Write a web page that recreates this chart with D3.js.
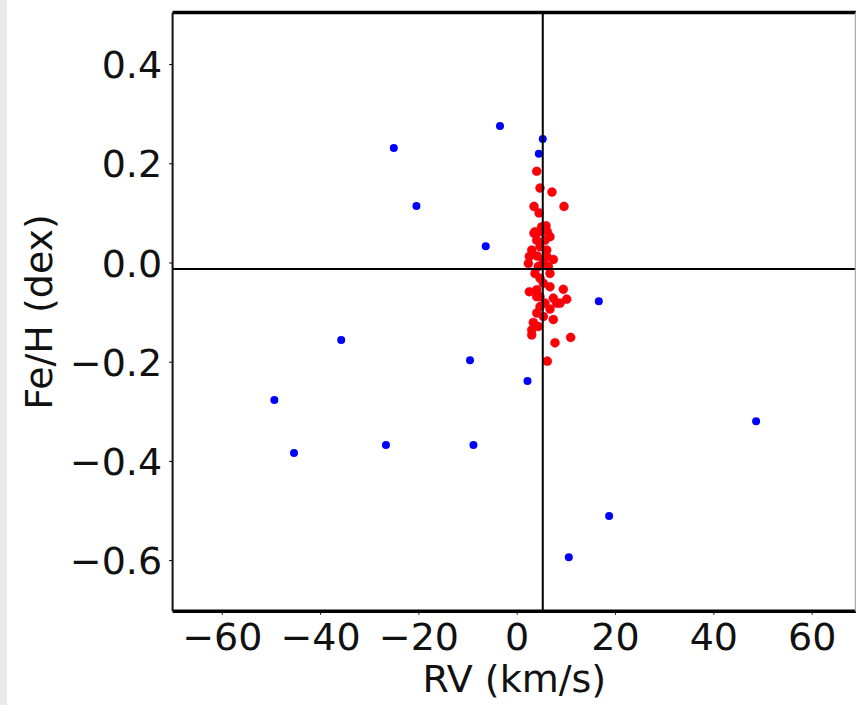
<!DOCTYPE html>
<html>
<head>
<meta charset="utf-8">
<script src="https://cdn.jsdelivr.net/npm/d3@7"></script>
<style>
  body { margin: 0; background: #ffffff; }
  svg { display: block; }
  text { font-family: "DejaVu Sans", sans-serif; }
</style>
</head>
<body>
<svg id="drawing_region"></svg>
<script>
// field stars (blue)
const field_rv  = [-3.4, 5.3, 4.5, -25.0, -20.4, -6.3, 16.7, -35.7, -9.5, 2.2, -49.3, -26.6, -8.8, -45.3, 48.7, 18.8, 10.6];
const field_feh = [0.275, 0.249, 0.219, 0.231, 0.114, 0.033, -0.078, -0.156, -0.197, -0.239, -0.277, -0.368, -0.368, -0.384, -0.320, -0.511, -0.594];

// cluster members (red)
const member_rv  = [4.07, 4.74, 7.18, 3.52, 9.62, 4.54, 5.96, 3.52, 4.74, 6.23, 4.07, 5.76, 6.77, 4.74, 6.10,
                    2.57, 4.20, 7.45, 2.37, 5.42, 4.40, 6.44, 3.72, 6.77, 4.74, 5.42, 2.57, 4.07, 6.77, 9.48,
                    4.74, 7.45, 10.17, 8.81, 5.76, 6.77, 4.07, 5.42, 7.45, 3.38, 4.40, 3.05, 7.79, 10.98, 6.23,
                    3.72, 5.08, 3.05, 6.10, 4.74, 3.05, 4.07, 8.14];
const member_feh = [0.184, 0.150, 0.142, 0.113, 0.113, 0.100, 0.074, 0.059, 0.062, 0.062, 0.045, 0.045, 0.052, 0.032, 0.025,
                    0.012, 0.013, 0.006, -0.002, 0.002, -0.008, -0.008, -0.022, -0.022, -0.032, -0.042, -0.059, -0.055, -0.049, -0.054,
                    -0.069, -0.072, -0.074, -0.082, -0.082, -0.094, -0.102, -0.109, -0.115, -0.121, -0.129, -0.146, -0.162, -0.151, -0.199,
                    0.062, 0.072, 0.025, 0.012, -0.089, -0.136, -0.069, -0.082];

// reference lines
const line_rv = 5.3;
const line_feh = -0.013;

const x_ticks = [-60, -40, -20, 0, 20, 40, 60];
const y_ticks = [-0.6, -0.4, -0.2, 0.0, 0.2, 0.4];

class ScatterPlot {

    constructor( config ) {
        this.config = config;
        this.init();
    }

    init() {
        let self = this;

        self.svg = d3.select( self.config.parent )
            .attr('width', self.config.width)
            .attr('height', self.config.height);

        // grey strip on the left edge of the picture
        self.svg.append('rect')
            .attr('x', 0).attr('y', 0)
            .attr('width', 7).attr('height', self.config.height)
            .attr('fill', '#ebe9e5');

        self.xscale = d3.scaleLinear()
            .domain( [-70, 69] )
            .range( [172.6, 855.9] );

        self.yscale = d3.scaleLinear()
            .domain( [-0.703, 0.504] )
            .range( [611.2, 12.5] );

        self.chart = self.svg.append('g');
    }

    render() {
        let self = this;
        const x0 = self.xscale.range()[0], x1 = self.xscale.range()[1];
        const y0 = self.yscale.range()[1], y1 = self.yscale.range()[0];

        const fmt = d => d3.format('.1f')(d).replace('-', '\u2212');
        const xfmt = d => String(d).replace('-', '\u2212');

        // axes
        const xaxis = d3.axisBottom( self.xscale )
            .tickValues( x_ticks )
            .tickSize(3.5)
            .tickPadding(8)
            .tickFormat( xfmt );
        const xg = self.chart.append('g')
            .attr('transform', `translate(0, ${y1})`)
            .call( xaxis );
        xg.select('.domain').remove();
        xg.selectAll('text')
            .attr('font-size', 38)
            .attr('font-family', '"DejaVu Sans", sans-serif')
            .attr('fill', '#111');

        const yaxis = d3.axisLeft( self.yscale )
            .tickValues( y_ticks )
            .tickSize(3.5)
            .tickPadding(7)
            .tickFormat( fmt );
        const yg = self.chart.append('g')
            .attr('transform', `translate(${x0}, 0)`)
            .call( yaxis );
        yg.select('.domain').remove();
        yg.selectAll('text')
            .attr('font-size', 38)
            .attr('font-family', '"DejaVu Sans", sans-serif')
            .attr('fill', '#111')
            .attr('dy', '0.36em');

        // points
        const field = field_rv.map( (d, i) => ({ x: d, y: field_feh[i] }) );
        const member = member_rv.map( (d, i) => ({ x: d, y: member_feh[i] }) );

        self.chart.append('g').selectAll('circle')
            .data( field )
            .join('circle')
            .attr('cx', d => self.xscale( d.x ))
            .attr('cy', d => self.yscale( d.y ))
            .attr('r', 4)
            .attr('fill', '#0000ff');

        self.chart.append('g').selectAll('circle')
            .data( member )
            .join('circle')
            .attr('cx', d => self.xscale( d.x ))
            .attr('cy', d => self.yscale( d.y ))
            .attr('r', 4.6)
            .attr('fill', '#ff0000')
            .attr('stroke', '#c0106a')
            .attr('stroke-opacity', 0.35)
            .attr('stroke-width', 0.8);

        // reference lines
        self.chart.append('line')
            .attr('x1', self.xscale(line_rv)).attr('x2', self.xscale(line_rv))
            .attr('y1', y0).attr('y2', y1)
            .attr('stroke', '#000').attr('stroke-width', 2);
        self.chart.append('line')
            .attr('x1', x0).attr('x2', x1)
            .attr('y1', self.yscale(line_feh)).attr('y2', self.yscale(line_feh))
            .attr('stroke', '#000').attr('stroke-width', 2);

        // frame
        self.chart.append('line')
            .attr('x1', x0).attr('x2', x1).attr('y1', y0).attr('y2', y0)
            .attr('stroke', '#000').attr('stroke-width', 3.5);
        self.chart.append('line')
            .attr('x1', x0).attr('x2', x1).attr('y1', y1).attr('y2', y1)
            .attr('stroke', '#000').attr('stroke-width', 3.5);
        self.chart.append('line')
            .attr('x1', x0).attr('x2', x0).attr('y1', y0).attr('y2', y1)
            .attr('stroke', '#111').attr('stroke-width', 2);
        self.chart.append('line')
            .attr('x1', x1 - 0.5).attr('x2', x1 - 0.5).attr('y1', y0).attr('y2', y1)
            .attr('stroke', '#aaa').attr('stroke-width', 1.2);

        // axis labels
        self.svg.append('text')
            .attr('x', (x0 + x1) / 2)
            .attr('y', 692)
            .attr('text-anchor', 'middle')
            .attr('font-size', 38)
            .attr('fill', '#111')
            .text('RV (km/s)');

        self.svg.append('text')
            .attr('transform', `translate(52, ${(y0 + y1) / 2}) rotate(-90)`)
            .attr('text-anchor', 'middle')
            .attr('font-size', 38)
            .attr('fill', '#111')
            .text('Fe/H (dex)');
    }
}

const config = {
    parent: '#drawing_region',
    width: 856,
    height: 705
};

const scatter_plot = new ScatterPlot( config );
scatter_plot.render();
</script>
</body>
</html>
